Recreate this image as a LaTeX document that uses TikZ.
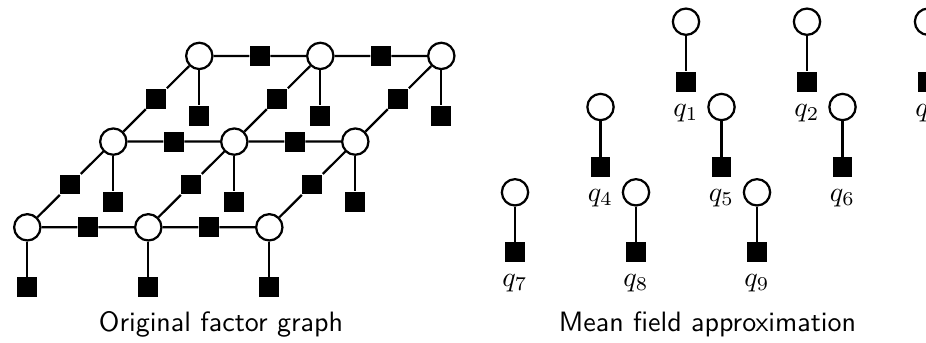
\documentclass[tikz,border=0pt]{standalone}
\usetikzlibrary{calc}
\begin{document}
\begin{tikzpicture}[
  x=0.35714pt, y=-0.35714pt,
  var/.style={circle, draw=black, line width=0.8pt, fill=white, minimum size=9.4pt, inner sep=0pt},
  fac/.style={rectangle, fill=black, minimum size=7.1pt, inner sep=0pt},
  edge/.style={line width=0.8pt},
  qlabel/.style={anchor=north, inner sep=0pt},
  caption/.style={anchor=base, font=\sffamily}
]
\clip (0,0) rectangle (926,342);

% ---- Left: 3x3 grid factor graph ----
\foreach \i in {0,1,2} {
  \foreach \j in {0,1,2} {
    \node[var] (L-\i-\j) at ({27.3+121*\i+86*\j},{227.3-85.7*\j}) {};
    \node[fac] (P-\i-\j) at ({27.3+121*\i+86*\j},{287.3-85.7*\j}) {};
    \draw[edge] (L-\i-\j) -- (P-\i-\j);
  }
}
% horizontal pairwise factors
\foreach \i/\k in {0/1,1/2} {
  \foreach \j in {0,1,2} {
    \node[fac] (H-\i-\j) at ($(L-\i-\j)!0.5!(L-\k-\j)$) {};
    \draw[edge] (L-\i-\j) -- (H-\i-\j) -- (L-\k-\j);
  }
}
% diagonal pairwise factors
\foreach \i in {0,1,2} {
  \foreach \j/\k in {0/1,1/2} {
    \node[fac] (D-\i-\j) at ($(L-\i-\j)!0.5!(L-\i-\k)$) {};
    \draw[edge] (L-\i-\j) -- (D-\i-\j) -- (L-\i-\k);
  }
}
\node[caption] (capL) at (221,331.5) {Original factor graph};

% ---- Right: fully factorised approximation ----
\foreach \i in {0,1,2} {
  \foreach \j in {0,1,2} {
    \pgfmathtruncatemacro{\n}{(2-\j)*3+\i+1}
    \node[var] (M-\i-\j) at ({515+121*\i+85.5*\j},{192.3-85.3*\j}) {};
    \node[fac] (Q-\i-\j) at ({515+121*\i+85.5*\j},{252.3-85.3*\j}) {};
    \draw[edge] (M-\i-\j) -- (Q-\i-\j);
    \node[qlabel] (T-\i-\j) at ({515+121*\i+85.5*\j},{274-85.3*\j}) {$q_{\n}$};
  }
}
\node[caption] (capR) at (707.5,331.5) {Mean field approximation};
\end{tikzpicture}
\end{document}
